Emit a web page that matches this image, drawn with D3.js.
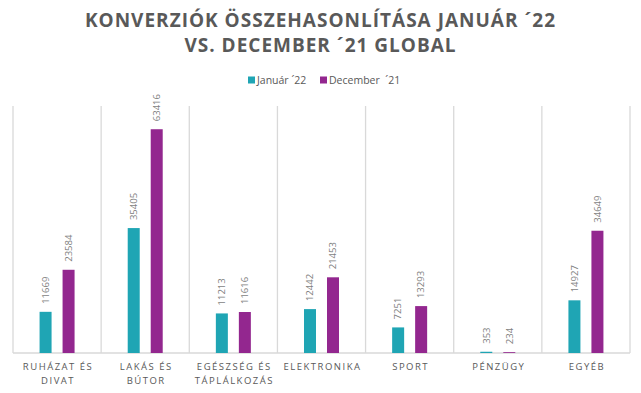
<!DOCTYPE html>
<html>
<head>
<meta charset="utf-8">
<script src="https://cdn.jsdelivr.net/npm/d3@7"></script>
<style>
  body { margin: 0; background: #fff; }
  svg { display: block; font-family: "Open Sans", sans-serif; }
</style>
</head>
<body>
<svg id="chart" width="641" height="393"></svg>
<script>
var categories = [
    ["RUHÁZAT ÉS", "DIVAT"],
    ["LAKÁS ÉS", "BÚTOR"],
    ["EGÉSZSÉG ÉS", "TÁPLÁLKOZÁS"],
    ["ELEKTRONIKA"],
    ["SPORT"],
    ["PÉNZÜGY"],
    ["EGYÉB"]
];
var series_names = ["Január ´22", "December  ´21"];
var january = [11669, 35405, 11213, 12442, 7251, 353, 14927];
var december = [23584, 63416, 11616, 21453, 13293, 234, 34649];
var colors = ["#1fa5b4", "#93278f"];
var title_lines = ["KONVERZIÓK ÖSSZEHASONLÍTÁSA JANUÁR ´22", "VS. DECEMBER ´21 GLOBAL"];

var width = 641,
    height = 393,
    plot_left = 13,
    plot_right = 630,
    plot_top = 106,
    plot_bottom = 353;

var svg = d3.select('#chart');

// title
svg.selectAll('text.title')
    .data(title_lines)
    .enter().append('text')
    .attr('class', 'title')
    .attr('x', width / 2)
    .attr('y', function(d, i){ return 27 + i * 25; })
    .attr('text-anchor', 'middle')
    .attr('font-size', '19px')
    .attr('font-weight', 'bold')
    .attr('letter-spacing', '1px')
    .attr('fill', '#595959')
    .text(function(d){ return d; });

// legend
var legend_x = [248, 320];
var legend = svg.selectAll('g.legend')
    .data(series_names)
    .enter().append('g')
    .attr('class', 'legend')
    .attr('transform', function(d, i){ return 'translate(' + legend_x[i] + ',80)'; });

legend.append('rect')
    .attr('x', 0)
    .attr('y', -3.5)
    .attr('width', 7)
    .attr('height', 7)
    .attr('fill', function(d, i){ return colors[i]; });

legend.append('text')
    .attr('x', 9)
    .attr('y', 0)
    .attr('dy', '0.35em')
    .attr('font-size', '10.5px')
    .attr('fill', '#595959')
    .style('white-space', 'pre')
    .text(function(d){ return d; });

// scales
var x = d3.scaleBand()
    .domain(d3.range(categories.length))
    .range([plot_left, plot_right]);

var y = d3.scaleLinear()
    .domain([0, 70000])
    .range([plot_bottom, plot_top]);

var x_inner = d3.scaleBand()
    .domain([0, 1])
    .range([-17.5, 17.5])
    .paddingInner(11 / 23);

// vertical separators
svg.selectAll('line.sep')
    .data(d3.range(categories.length + 1))
    .enter().append('line')
    .attr('class', 'sep')
    .attr('x1', function(d){ return plot_left + d * x.bandwidth(); })
    .attr('x2', function(d){ return plot_left + d * x.bandwidth(); })
    .attr('y1', plot_top)
    .attr('y2', plot_bottom)
    .attr('stroke', '#d9d9d9')
    .attr('stroke-width', 1.3);

svg.append('line')
    .attr('x1', plot_left)
    .attr('x2', plot_right)
    .attr('y1', plot_bottom)
    .attr('y2', plot_bottom)
    .attr('stroke', '#d9d9d9')
    .attr('stroke-width', 1.3);

// bars
var all_series = [january, december];
var groups = svg.selectAll('g.cat')
    .data(categories)
    .enter().append('g')
    .attr('class', 'cat')
    .attr('transform', function(d, i){ return 'translate(' + (x(i) + x.bandwidth() / 2) + ',0)'; });

groups.each(function(cat, i){
    var g = d3.select(this);
    all_series.forEach(function(values, s){
        var v = values[i];
        var bx = x_inner(s);
        var bw = x_inner.bandwidth();
        g.append('rect')
            .attr('x', bx)
            .attr('y', y(v))
            .attr('width', bw)
            .attr('height', plot_bottom - y(v))
            .attr('fill', colors[s]);
        g.append('text')
            .attr('transform', 'translate(' + (bx + bw / 2) + ',' + (y(v) - 8) + ') rotate(-90)')
            .attr('dy', '0.35em')
            .attr('text-anchor', 'start')
            .attr('font-size', '9.5px')
            .attr('fill', '#7f7f7f')
            .text(v);
    });

    g.selectAll('text.cat-label')
        .data(cat)
        .enter().append('text')
        .attr('class', 'cat-label')
        .attr('x', 1)
        .attr('y', function(d, j){ return 370 + j * 13.5; })
        .attr('text-anchor', 'middle')
        .attr('font-size', '9.5px')
        .attr('letter-spacing', '1.5px')
        .attr('fill', '#595959')
        .text(function(d){ return d; });
});
</script>
</body>
</html>
